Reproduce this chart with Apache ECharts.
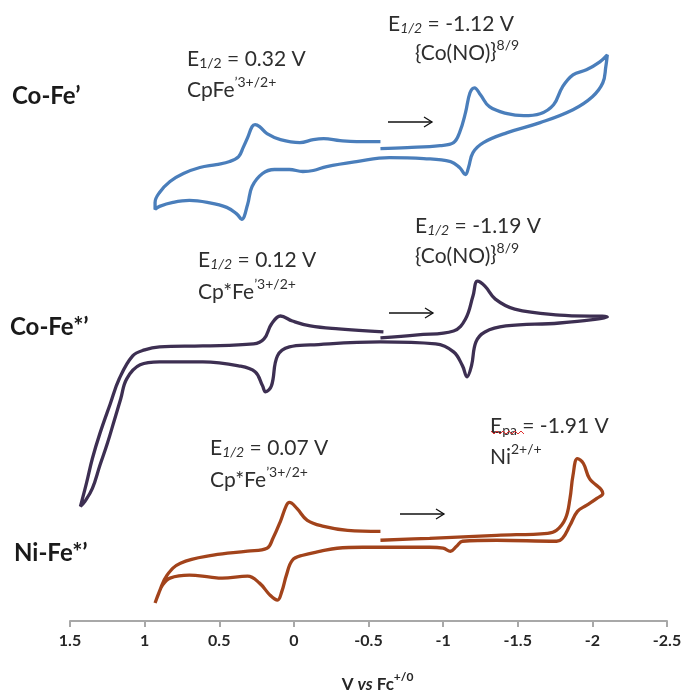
<!DOCTYPE html>
<html><head><meta charset="utf-8">
<script src="https://cdn.jsdelivr.net/npm/echarts@6/dist/echarts.min.js"></script>
<style>html,body{margin:0;padding:0;background:#fff}#c{width:686px;height:698px}</style>
</head><body><div id="c"></div>
<script>
// x tick labels (V vs Fc+/0)
const xTickValues = [1.5, 1, 0.5, 0, -0.5, -1, -1.5, -2, -2.5];
const xTickLabels = ['1.5', '1', '0.5', '0', '-0.5', '-1', '-1.5', '-2', '-2.5'];
const seriesNames = ['Co-Fe’', 'Co-Fe*’', 'Ni-Fe*’'];

// Co-Fe' (blue) : potential (V) and offset current (a.u.), in scan order
const coFeV = [-0.58,-0.76,-0.98,-1.07,-1.11,-1.15,-1.18,-1.21,-1.25,-1.31,-1.43,-1.54,-1.65,-1.74,-1.80,-1.87,-1.96,-2.05,-2.10,
  -2.09,-2.07,-2.00,-1.87,-1.65,-1.43,-1.27,-1.20,-1.17,-1.15,-1.11,-1.05,-0.87,-0.64,-0.42,-0.22,-0.13,-0.06,0.03,0.13,0.21,0.28,0.31,0.35,
  0.38,0.45,0.58,0.70,0.81,0.90,0.93,0.93,0.90,0.83,0.74,0.63,0.52,0.43,0.37,0.34,0.31,0.28,0.26,0.23,0.18,0.09,-0.04,-0.13,-0.20,-0.31,-0.42,-0.58];
const coFeI = [474,475,477,480,490,510,530,535,528,516,509,507,509,518,536,548,553,561,568,
  556,540,526,513,500,490,480,470,455,448,455,461,464,465,461,456,452,451,453,453,449,436,418,403,
  408,415,420,422,420,416,413,420,430,441,449,455,458,461,466,475,485,496,498,496,489,483,480,483,484,482,481,481];

// Co-Fe*' (purple)
const coFeStarV = [-0.58,-0.83,-1.07,-1.15,-1.20,-1.23,-1.28,-1.35,-1.48,-1.78,-2.10,
  -1.78,-1.42,-1.28,-1.22,-1.19,-1.16,-1.13,-1.07,-0.95,-0.58,-0.11,0.03,0.11,0.15,0.19,0.21,0.26,0.37,0.61,0.90,1.03,1.12,1.16,1.20,1.25,1.30,1.35,1.40,1.43,
  1.39,1.35,1.30,1.23,1.17,1.08,1.00,0.90,0.61,0.27,0.20,0.15,0.09,0.01,-0.11,-0.30,-0.60];
const coFeStarI = [284,287,291,303,326,341,336,323,313,307,305,
  299,296,290,280,256,245,256,270,278,280,277,275,266,236,230,236,250,256,260,260,257,243,223,203,178,156,133,120,115,
  138,163,188,218,243,266,272,275,276,278,283,298,306,301,296,293,290];

// Ni-Fe*' (brown)
const niFeStarV = [-0.58,-0.91,-1.36,-1.70,-1.76,-1.82,-1.85,-1.87,-1.90,-1.94,-1.98,-2.07,
  -2.03,-1.96,-1.90,-1.85,-1.80,-1.76,-1.36,-1.13,-1.09,-1.05,-1.00,-0.91,-0.69,-0.46,-0.29,-0.18,-0.06,0.01,0.05,0.08,0.11,0.16,0.23,0.31,0.48,0.56,0.70,0.83,0.88,0.91,0.93,
  0.90,0.85,0.76,0.54,0.31,0.18,0.14,0.09,0.05,0.03,-0.02,-0.09,-0.20,-0.36,-0.58];
const niFeStarI = [81,83,86,88,91,103,123,146,163,158,143,128,
  123,116,110,96,83,80,81,80,75,70,73,74,74,74,73,70,66,61,46,30,21,26,38,45,43,44,46,43,36,26,18,
  30,46,58,66,70,73,83,100,116,119,113,101,95,91,90];

const colors = ['#4a7ebb', '#3d2f52', '#a2431b'];
const curves = [[coFeV, coFeI], [coFeStarV, coFeStarI], [niFeStarV, niFeStarI]];

const FONT = 'Lato, "Open Sans", sans-serif';
const txtColor = '#2e2e2e';

function richText(x, y, text, italicSub) {
  return {
    type: 'text', x: x, y: y, silent: true,
    style: {
      text: text, fill: txtColor, fontFamily: FONT, fontSize: 21, verticalAlign: 'top',
      rich: {
        b: { fontFamily: FONT, fontSize: 21, lineHeight: 26, verticalAlign: 'bottom', fill: txtColor },
        s: { fontFamily: FONT, fontSize: 14, lineHeight: 14, verticalAlign: 'bottom', fontStyle: italicSub ? 'italic' : 'normal', fill: txtColor },
        p: { fontFamily: FONT, fontSize: 14, lineHeight: 14, verticalAlign: 'top', fill: txtColor }
      }
    }
  };
}
function arrow(x1, x2, y) {
  return [
    { type: 'line', silent: true, shape: { x1: x1, y1: y, x2: x2, y2: y }, style: { stroke: '#111', lineWidth: 1.3 } },
    { type: 'polyline', silent: true, shape: { points: [[x2 - 8, y - 5], [x2, y], [x2 - 8, y + 5]] }, style: { stroke: '#111', lineWidth: 1.3, fill: null } }
  ];
}
function seriesLabel(x, y, text) {
  return { type: 'text', x: x, y: y, silent: true,
    style: { text: text, fontFamily: FONT, fontWeight: 'bold', fontSize: 24, fill: '#1a1a1a', verticalAlign: 'middle' } };
}

const graphics = [
  seriesLabel(12, 96, seriesNames[0]),
  seriesLabel(10, 327, seriesNames[1]),
  seriesLabel(14, 553, seriesNames[2]),
  richText(187, 44, '{b|E}{s|1/2}{b| = 0.32 V}', false),
  richText(187, 75, '{b|CpFe}{p|’3+/2+}', false),
  richText(388, 9, '{b|E}{s|1/2}{b| = -1.12 V}', true),
  richText(415, 38, '{b|{Co(NO)}}{p|8/9}', false),
  richText(198, 245, '{b|E}{s|1/2}{b| = 0.12 V}', true),
  richText(198, 277, '{b|Cp*Fe}{p|’3+/2+}', false),
  richText(415, 211, '{b|E}{s|1/2}{b| = -1.19 V}', true),
  richText(415, 241, '{b|{Co(NO)}}{p|8/9}', false),
  richText(210, 433, '{b|E}{s|1/2}{b| = 0.07 V}', true),
  richText(210, 465, '{b|Cp*Fe}{p|’3+/2+}', false),
  richText(490, 411, '{b|E}{s|pa}{b| = -1.91 V}', false),
  richText(490, 442, '{b|Ni}{p|2+/+}', false),
  { type: 'polyline', silent: true,
    shape: { points: [[491,431],[494,434],[497,431],[500,434],[503,431],[506,434],[509,431],[512,434],[515,431],[518,434],[521,431],[524,434]] },
    style: { stroke: '#e03030', lineWidth: 1, fill: null } }
].concat(arrow(388, 432, 122), arrow(389, 433, 313), arrow(400, 444, 514));

const chart = echarts.init(document.getElementById('c'), null, { renderer: 'canvas' });
chart.setOption({
  animation: false,
  backgroundColor: '#fff',
  grid: { left: 70, right: 19, top: 23, bottom: 75 },
  xAxis: {
    type: 'value', min: -2.5, max: 1.5, interval: 0.5, inverse: true,
    splitLine: { show: false },
    axisLine: { onZero: false, lineStyle: { color: '#a8a8a8', width: 2 } },
    axisTick: { show: true, length: 6, lineStyle: { color: '#a8a8a8', width: 2 } },
    axisLabel: {
      margin: 12, color: '#262626', fontFamily: FONT, fontWeight: 'bold', fontSize: 16,
      formatter: function (v) {
        const i = xTickValues.findIndex(t => Math.abs(t - v) < 1e-9);
        return i >= 0 ? xTickLabels[i] : '';
      }
    },
    name: '{b|V }{i|vs}{b| Fc}{p|+/0}',
    nameLocation: 'middle', nameGap: 50,
    nameTextStyle: {
      padding: [0, 0, 0, 18],
      rich: {
        b: { fontFamily: FONT, fontWeight: 'bold', fontSize: 17, lineHeight: 22, verticalAlign: 'bottom', color: '#262626' },
        i: { fontFamily: FONT, fontWeight: 'bold', fontStyle: 'italic', fontSize: 17, lineHeight: 22, verticalAlign: 'bottom', color: '#262626' },
        p: { fontFamily: FONT, fontWeight: 'bold', fontSize: 12, lineHeight: 12, verticalAlign: 'top', color: '#262626' }
      }
    }
  },
  yAxis: { type: 'value', min: 0, max: 600, show: false, splitLine: { show: false } },
  series: curves.map(function (c, k) {
    return {
      name: seriesNames[k], type: 'line', showSymbol: false, smooth: 0.4,
      lineStyle: { color: colors[k], width: 3.3 },
      data: c[0].map(function (v, j) { return [v, c[1][j]]; })
    };
  }),
  graphic: graphics
});
</script>
</body></html>
